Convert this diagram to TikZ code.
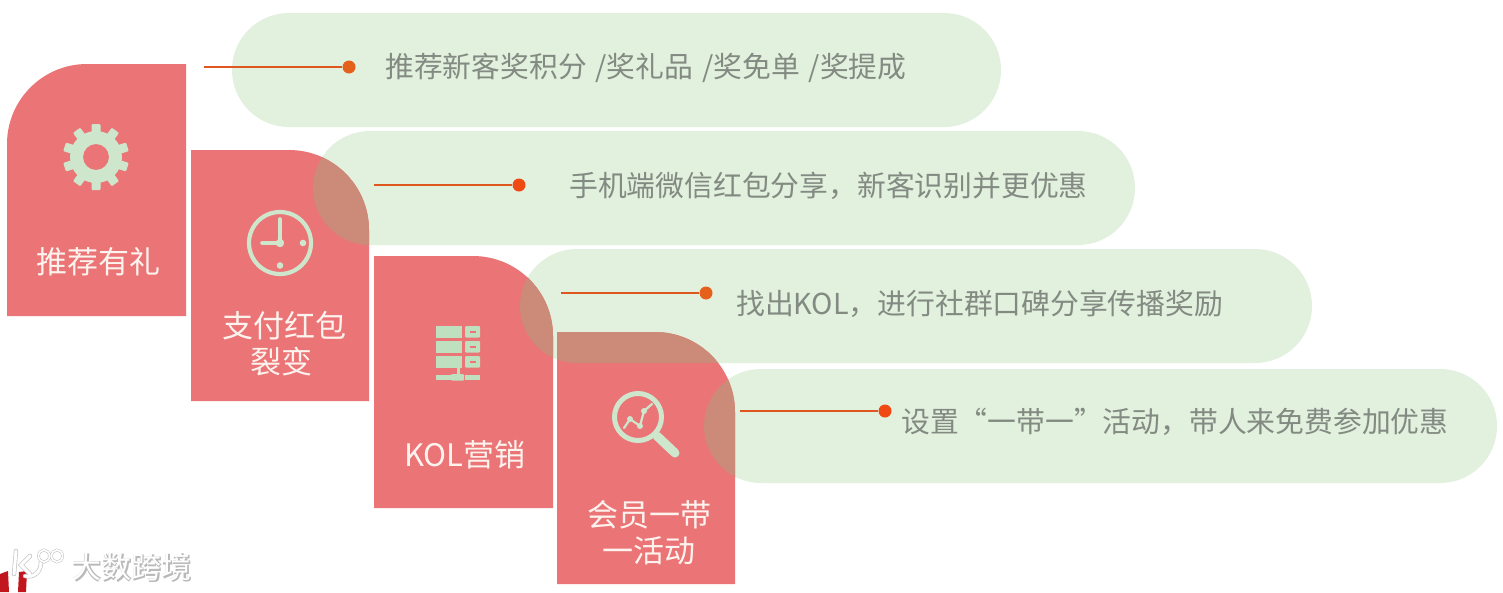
\documentclass[tikz,border=0pt]{standalone}
\usepackage{fontspec}
\setmainfont{Noto Sans CJK SC}
\definecolor{cardc}{HTML}{EB7476}
\definecolor{pillc}{HTML}{E2F0DE}
\definecolor{overc}{HTML}{CC8B78}
\definecolor{iconc}{HTML}{CDE6CC}
\definecolor{serverc}{HTML}{BFE0BF}
\definecolor{linec}{HTML}{E0561F}
\definecolor{dotc}{HTML}{E5601A}
\definecolor{dotd}{HTML}{EE4A12}
\definecolor{textc}{HTML}{828A82}
\definecolor{cardtext}{HTML}{FDF3EE}
\definecolor{redc}{HTML}{C2161F}
\tikzset{
  pillfill/.style={fill=pillc},
  cardfill/.style={fill=cardc},
  overfill/.style={fill=overc},
  leader/.style={draw=linec,line width=1.7pt},
  dotnode/.style={circle,fill=dotc,inner sep=0pt,minimum size=13pt},
  pilltext/.style={text=textc,font=\fontsize{28.8}{29}\selectfont,anchor=west,inner sep=0pt},
  cardlabel/.style={text=cardtext,font=\fontsize{31}{36}\selectfont,align=center,inner sep=0pt},
  icon/.style={fill=iconc},
  iconline/.style={draw=iconc},
  servericon/.style={fill=serverc}
}
\newcommand{\pillA}{(289,13) -- (944,13) arc[start angle=-90,end angle=90,radius=57] -- (289,127) arc[start angle=90,end angle=270,radius=57] -- cycle}
\newcommand{\pillB}{(370,131) -- (1078,131) arc[start angle=-90,end angle=90,radius=57] -- (370,245) arc[start angle=90,end angle=270,radius=57] -- cycle}
\newcommand{\pillC}{(577,249) -- (1255,249) arc[start angle=-90,end angle=90,radius=57] -- (577,363) arc[start angle=90,end angle=270,radius=57] -- cycle}
\newcommand{\pillD}{(761,369) -- (1440,369) arc[start angle=-90,end angle=90,radius=57] -- (761,483) arc[start angle=90,end angle=270,radius=57] -- cycle}
\newcommand{\cardA}{(186,64) -- (186,316) -- (7,316) -- (7,144) arc[start angle=180,end angle=270,radius=80] -- cycle}
\newcommand{\cardB}{(191,150) -- (289,150) arc[start angle=270,end angle=360,radius=80] -- (369,401) -- (191,401) -- cycle}
\newcommand{\cardC}{(374,256) -- (473,256) arc[start angle=270,end angle=360,radius=80] -- (553,508) -- (374,508) -- cycle}
\newcommand{\cardD}{(557,332) -- (655,332) arc[start angle=270,end angle=360,radius=80] -- (735,584) -- (557,584) -- cycle}
\begin{document}
\begin{tikzpicture}[x=1pt,y=-1pt]
\useasboundingbox (0,0) rectangle (1503,592);
\fill[white] (0,0) rectangle (1503,592);
% pills
\fill[pillfill] \pillA;
\fill[pillfill] \pillB;
\fill[pillfill] \pillC;
\fill[pillfill] \pillD;
% cards
\fill[cardfill] \cardA;
\fill[cardfill] \cardB;
\fill[cardfill] \cardC;
\fill[cardfill] \cardD;
% overlaps
\begin{scope}\clip \cardB; \fill[overfill] \pillB; \end{scope}
\begin{scope}\clip \cardC; \fill[overfill] \pillC; \end{scope}
\begin{scope}\clip \cardD; \fill[overfill] \pillC; \fill[overfill] \pillD; \end{scope}
% leaders
\coordinate (s1) at (204,67);
\coordinate (s2) at (374,185);
\coordinate (s3) at (561,293);
\coordinate (s4) at (740,411);
\node[dotnode] (d1) at (349,67) {};
\node[dotnode,fill=dotd] (d2) at (519,185) {};
\node[dotnode] (d3) at (706,293) {};
\node[dotnode,fill=dotd] (d4) at (885,411) {};
\draw[leader] (s1) -- (d1);
\draw[leader] (s2) -- (d2);
\draw[leader] (s3) -- (d3);
\draw[leader] (s4) -- (d4);
% pill texts
\node[pilltext] (t1) at (385,68) {推荐新客奖积分\hspace{2.4pt} /奖礼品\hspace{2.4pt} /奖免单\hspace{2.4pt} /奖提成};
\node[pilltext] (t2) at (569,186) {手机端微信红包分享，新客识别并更优惠};
\node[pilltext] (t3) at (736,304) {找出KOL，进行社群口碑分享传播奖励};
\node[pilltext] (t4) at (901,422) {设置“一带一”活动，带人来免费参加优惠};
% card labels
\node[cardlabel] (l1) at (98,262) {推荐有礼};
\node[cardlabel] (l2) at (284,344) {支付红包\\\hspace*{-5pt}裂变};
\node[cardlabel] (l3) at (465,455) {KOL营销};
\node[cardlabel] (l4) at (649,533) {会员一带\\一活动};
% gear icon
\begin{scope}[shift={(96,157)}]
  \foreach \a in {0,36,...,324}
    \fill[icon,rotate=\a,rounded corners=1pt] (-4.5,-33) rectangle (4.5,-20);
  \fill[icon,even odd rule] (0,0) circle[radius=26] (0,0) circle[radius=13];
\end{scope}
% clock icon
\draw[iconline,line width=4.2pt] (280,243) circle[radius=31];
\draw[iconline,line width=3.6pt,line cap=round] (280,219) -- (280,243) -- (262,243);
\fill[icon] (280,243) circle[radius=4.2];
\fill[icon] (303,243) circle[radius=3.3];
\fill[icon] (280,265.5) circle[radius=3.3];
% server icon
\foreach \y in {326,341,356}{
  \fill[servericon] (436,\y) rectangle (462,\y+11.5);
  \fill[servericon,rounded corners=1pt] (465,\y) rectangle (480,\y+11.5);
  \fill[cardc] (470,\y+4.5) rectangle (476,\y+6.5);
}
\fill[servericon] (456.5,367) rectangle (459.5,376);
\fill[servericon] (436,375) rectangle (451,379.5);
\fill[servericon,rounded corners=1pt] (451,374) rectangle (464,380.5);
\fill[servericon] (465,375) rectangle (480,379.5);
% magnifier icon
\draw[iconline,line width=5pt] (638,417) circle[radius=23.5];
\draw[iconline,line width=9pt,line cap=round] (657,436) -- (675,453);
\draw[iconline,line width=2.2pt,line cap=round] (624,428) -- (630,419) -- (640,426) -- (644,411) -- (652,404);
\fill[icon] (630,419) circle[radius=3] (640,426) circle[radius=3] (644,411) circle[radius=3];
% watermark
\fill[redc] (0,574) -- (8,571) -- (9,592) -- (0,592) -- cycle;
\fill[redc] (19,572) -- (27,571) -- (26,592) -- (18,592) -- cycle;
\draw[gray!45,line width=4.4pt,line cap=round] (16,551) -- (14,574) (30,556) -- (21,565) -- (30,574) (41,562) .. controls (41,572) and (34,578) .. (25,576);
\draw[white,line width=3pt,line cap=round] (16,551) -- (14,574) (30,556) -- (21,565) -- (30,574) (41,562) .. controls (41,572) and (34,578) .. (25,576);
\draw[gray!45,line width=2.8pt] (44,556) ellipse[x radius=5.5,y radius=6] (57,556) ellipse[x radius=5.5,y radius=6];
\draw[white,line width=1.6pt] (44,556) ellipse[x radius=5.5,y radius=6] (57,556) ellipse[x radius=5.5,y radius=6];
\node[text=gray!55,font=\bfseries\fontsize{30}{30}\selectfont,inner sep=0pt] (w0) at (132,568) {大数跨境};
\node[text=white,font=\fontsize{30}{30}\selectfont,inner sep=0pt] (w1) at (131,567) {大数跨境};
\end{tikzpicture}
\end{document}
